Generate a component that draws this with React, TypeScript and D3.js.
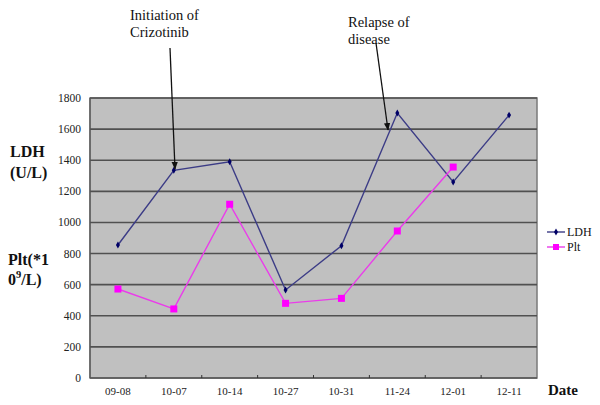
import { useEffect, useRef } from 'react';
import * as d3 from 'd3';

const dates = ['09-08', '10-07', '10-14', '10-27', '10-31', '11-24', '12-01', '12-11'];
const ldh = [855, 1335, 1390, 566, 850, 1703, 1260, 1690];
const plt: (number | null)[] = [572, 444, 1117, 480, 512, 945, 1356, null];
const yTicks = [0, 200, 400, 600, 800, 1000, 1200, 1400, 1600, 1800];

export default function App() {
  const svgRef = useRef<SVGSVGElement>(null);

  useEffect(() => {
    if (!svgRef.current) return;
    const svg = d3.select(svgRef.current);
    svg.selectAll('*').remove();

    const left = 90, right = 537, top = 98, bottom = 378;
    const font = 'Liberation Serif';

    const x = d3.scaleBand().domain(dates).range([left, right]);
    const y = d3.scaleLinear().domain([0, 1800]).range([bottom, top]);
    const cx = (d: string) => (x(d) ?? 0) + x.bandwidth() / 2;

    svg.append('rect').attr('width', 600).attr('height', 405).attr('fill', '#fff');

    // plot area
    svg.append('rect')
      .attr('x', left).attr('y', top)
      .attr('width', right - left).attr('height', bottom - top)
      .attr('fill', '#c0c0c0').attr('stroke', '#7a7a7a').attr('stroke-width', 1.5);

    svg.selectAll('.grid')
      .data(yTicks.filter(t => t > 0))
      .enter()
      .append('line')
      .attr('x1', left).attr('x2', right)
      .attr('y1', d => y(d)).attr('y2', d => y(d))
      .attr('stroke', '#505050').attr('stroke-width', 1.6);

    // axes
    svg.append('line').attr('x1', left).attr('x2', left).attr('y1', top).attr('y2', bottom)
      .attr('stroke', '#555').attr('stroke-width', 1.2);
    svg.append('line').attr('x1', left).attr('x2', right).attr('y1', bottom).attr('y2', bottom)
      .attr('stroke', '#555').attr('stroke-width', 1.4);

    svg.selectAll('.xtick')
      .data(dates.slice(1))
      .enter()
      .append('line')
      .attr('x1', d => x(d) ?? 0).attr('x2', d => x(d) ?? 0)
      .attr('y1', bottom - 3).attr('y2', bottom)
      .attr('stroke', '#333').attr('stroke-width', 1);

    svg.selectAll('.ylab')
      .data(yTicks)
      .enter()
      .append('text')
      .attr('x', 81).attr('y', d => y(d) + 4)
      .attr('text-anchor', 'end')
      .style('font-family', font).style('font-size', '11.5px').attr('fill', '#222')
      .text(d => d);

    svg.selectAll('.xlab')
      .data(dates)
      .enter()
      .append('text')
      .attr('x', d => cx(d)).attr('y', 395)
      .attr('text-anchor', 'middle')
      .style('font-family', font).style('font-size', '11px').attr('fill', '#222')
      .text(d => d);

    // series
    const ldhLine = d3.line<number>().x((_, i) => cx(dates[i])).y(d => y(d));
    svg.append('path').datum(ldh).attr('d', ldhLine)
      .attr('fill', 'none').attr('stroke', '#3c3c86').attr('stroke-width', 1.4);

    const pltLine = d3.line<number | null>()
      .defined(d => d !== null)
      .x((_, i) => cx(dates[i])).y(d => y(d as number));
    svg.append('path').datum(plt).attr('d', pltLine)
      .attr('fill', 'none').attr('stroke', '#ea3cea').attr('stroke-width', 1.4);

    const diamond = d3.symbol().type(d3.symbolDiamond).size(14);
    svg.selectAll('.ldhPt')
      .data(ldh)
      .enter()
      .append('path')
      .attr('d', diamond)
      .attr('transform', (d, i) => `translate(${cx(dates[i])},${y(d)})`)
      .attr('fill', '#000066');

    svg.selectAll('.pltPt')
      .data(plt.map((v, i) => ({ v, date: dates[i] })).filter(d => d.v !== null))
      .enter()
      .append('rect')
      .attr('x', d => cx(d.date) - 3.5).attr('y', d => y(d.v as number) - 3.5)
      .attr('width', 7).attr('height', 7)
      .attr('fill', '#ff00ff');

    // annotations
    const defs = svg.append('defs');
    defs.append('marker')
      .attr('id', 'arrow').attr('viewBox', '0 0 10 10')
      .attr('refX', 9).attr('refY', 5)
      .attr('markerWidth', 6).attr('markerHeight', 6)
      .attr('orient', 'auto')
      .append('path').attr('d', 'M0,1 L10,5 L0,9 z').attr('fill', '#111');

    const ann = [
      { lines: ['Initiation of', 'Crizotinib'], tx: 130, ty: 20, x1: 170, y1: 48, x2: 175, y2: 169 },
      { lines: ['Relapse of', 'disease'], tx: 348, ty: 27, x1: 376, y1: 43, x2: 388, y2: 130 },
    ];
    ann.forEach(a => {
      const t = svg.append('text')
        .attr('x', a.tx).attr('y', a.ty)
        .style('font-family', font).style('font-size', '14.5px').attr('fill', '#111');
      a.lines.forEach((l, i) => {
        t.append('tspan').attr('x', a.tx).attr('dy', i === 0 ? 0 : 16.5).text(l);
      });
      svg.append('line')
        .attr('x1', a.x1).attr('y1', a.y1).attr('x2', a.x2).attr('y2', a.y2)
        .attr('stroke', '#111').attr('stroke-width', 1.3)
        .attr('marker-end', 'url(#arrow)');
    });

    // axis titles
    const bold = (tx: number, ty: number, s: string, size = 16) =>
      svg.append('text').attr('x', tx).attr('y', ty)
        .style('font-family', font).style('font-size', `${size}px`).style('font-weight', 'bold')
        .attr('fill', '#111').text(s);
    bold(10, 157, 'LDH');
    bold(10, 178, '(U/L)');
    bold(8, 265, 'Plt(*1');
    const t2 = bold(8, 285, '0');
    t2.append('tspan').style('font-size', '10.5px').attr('dy', -7).text('9');
    t2.append('tspan').attr('dy', 7).text('/L)');
    bold(548, 395, 'Date', 15);

    // legend
    const lg = svg.append('g').attr('transform', 'translate(547,232)');
    lg.append('line').attr('x1', 0).attr('x2', 18).attr('y1', 0).attr('y2', 0)
      .attr('stroke', '#3c3c86').attr('stroke-width', 1.4);
    lg.append('path').attr('d', diamond).attr('transform', 'translate(9,0)').attr('fill', '#000066');
    lg.append('text').attr('x', 20).attr('y', 4).style('font-family', font)
      .style('font-size', '12px').attr('fill', '#111').text('LDH');
    lg.append('line').attr('x1', 0).attr('x2', 18).attr('y1', 15).attr('y2', 15)
      .attr('stroke', '#ea3cea').attr('stroke-width', 1.4);
    lg.append('rect').attr('x', 6).attr('y', 12).attr('width', 6).attr('height', 6).attr('fill', '#ff00ff');
    lg.append('text').attr('x', 20).attr('y', 19).style('font-family', font)
      .style('font-size', '12px').attr('fill', '#111').text('Plt');
  }, []);

  return (
    <svg ref={svgRef} width={600} height={405}
      style={{ position: 'absolute', left: 0, top: 0, display: 'block' }} />
  );
}
